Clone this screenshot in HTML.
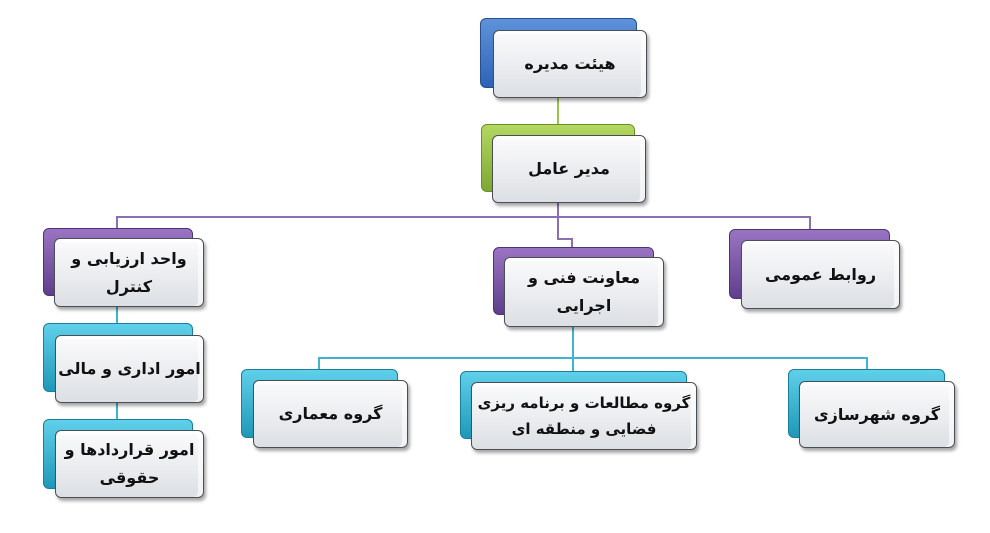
<!DOCTYPE html>
<html><head><meta charset="utf-8">
<style>
html,body{margin:0;padding:0;background:#fff;}
body{width:990px;height:533px;position:relative;overflow:hidden;font-family:"DejaVu Sans","Liberation Sans",sans-serif;}
.b{position:absolute;border-radius:6px;}
.f{position:absolute;border-radius:6px;border:1.5px solid #4a4f55;background:linear-gradient(#fbfbfc,#e9ebee 60%,#dcdfe3);box-shadow:2px 3px 3px rgba(0,0,0,0.35), inset -5px 0 0 rgba(255,255,255,0.6), inset 0 3px 0 rgba(255,255,255,0.8);display:flex;align-items:center;justify-content:center;text-align:center;direction:rtl;font-weight:bold;font-size:16px;line-height:28px;color:#111;box-sizing:border-box;white-space:nowrap;}
.blue{background:linear-gradient(#5e93db,#2e62b5);border:1px solid #24508f;}
.green{background:linear-gradient(#b3d862,#7fa830);border:1px solid #6b8f25;}
.purple{background:linear-gradient(#9a74c2,#5f3f8c);border:1px solid #4e3376;}
.teal{background:linear-gradient(#5fd0ea,#1f98b8);border:1px solid #1a7f9a;}
.l{position:absolute;}
.lp{background:#8b6fb3;}
.lt{background:#3fb3d0;}
.lg{background:#9bc24a;}
</style></head><body>
<div class="l lg" style="left:557px;top:98px;width:2px;height:30px"></div>
<div class="l lp" style="left:557px;top:203px;width:2px;height:36px"></div>
<div class="l lp" style="left:116px;top:216px;width:695px;height:2px"></div>
<div class="l lp" style="left:116px;top:216px;width:2px;height:14px"></div>
<div class="l lp" style="left:809px;top:216px;width:2px;height:14px"></div>
<div class="l lp" style="left:557px;top:238px;width:16px;height:2px"></div>
<div class="l lp" style="left:571px;top:238px;width:2px;height:12px"></div>
<div class="l lt" style="left:116px;top:306px;width:2px;height:20px"></div>
<div class="l lt" style="left:116px;top:402px;width:2px;height:20px"></div>
<div class="l lt" style="left:572px;top:326px;width:2px;height:46px"></div>
<div class="l lt" style="left:318px;top:357px;width:550px;height:2px"></div>
<div class="l lt" style="left:318px;top:357px;width:2px;height:14px"></div>
<div class="l lt" style="left:866px;top:357px;width:2px;height:14px"></div>

<div class="b blue" style="left:480px;top:18px;width:155px;height:68px"></div>
<div class="f" style="left:493px;top:30px;width:154px;height:68px">هیئت مدیره</div>
<div class="b green" style="left:481px;top:124px;width:152px;height:66px"></div>
<div class="f" style="left:492px;top:135px;width:154px;height:68px">مدیر عامل</div>

<div class="b purple" style="left:43px;top:228px;width:148px;height:66px"></div>
<div class="f" style="left:54px;top:238px;width:150px;height:69px">واحد ارزیابی و<br>کنترل</div>
<div class="b purple" style="left:493px;top:247px;width:159px;height:66px"></div>
<div class="f" style="left:504px;top:257px;width:160px;height:70px">معاونت فنی و<br>اجرایی</div>
<div class="b purple" style="left:729px;top:229px;width:159px;height:68px"></div>
<div class="f" style="left:741px;top:240px;width:159px;height:69px">روابط عمومی</div>

<div class="b teal" style="left:43px;top:323px;width:148px;height:67px"></div>
<div class="f" style="left:55px;top:335px;width:149px;height:68px">امور اداری و مالی</div>
<div class="b teal" style="left:43px;top:419px;width:148px;height:68px"></div>
<div class="f" style="left:55px;top:430px;width:149px;height:68px">امور قراردادها و<br>حقوقی</div>

<div class="b teal" style="left:241px;top:369px;width:155px;height:67px"></div>
<div class="f" style="left:253px;top:380px;width:155px;height:68px">گروه معماری</div>
<div class="b teal" style="left:460px;top:371px;width:225px;height:66px"></div>
<div class="f" style="left:471px;top:382px;width:226px;height:68px;font-size:15px;line-height:26px">گروه مطالعات و برنامه ریزی<br>فضایی و منطقه ای</div>
<div class="b teal" style="left:788px;top:369px;width:155px;height:67px"></div>
<div class="f" style="left:799px;top:381px;width:156px;height:67px">گروه شهرسازی</div>
</body></html>
